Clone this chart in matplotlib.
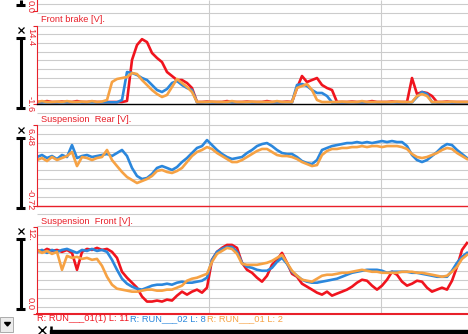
import numpy as np
import matplotlib.pyplot as plt
from matplotlib.patches import Rectangle, Polygon

plt.rcParams['font.family'] = ['Liberation Sans', 'DejaVu Sans']

W, H = 468, 334            # figure size in pixels
LEFT = 37                  # left edge of the channel plots
XMAX = 431 / 172           # one vertical grid division is 172 px wide
RED = '#e8202a'
GRID = '#cccccc'

# lap distance, one sample every 5 px
dist = np.linspace(0, 2.5, 87)

run_labels = ["R: RUN___01(1) L: 11", "R: RUN___02 L: 8", "R: RUN___01 L: 2"]
run_colors = ['#f0141e', '#2b87dc', '#f6a244']

# Front brake [V]
brake_red = [
    -1.19, -1.19, -1.00, -1.19, -1.19, -1.10, -1.19, -1.19, -1.00, -1.19,
    -1.19, -1.10, -1.19, -1.19, -1.19, -1.19, -1.19, -1.19, -0.98, 7.43,
    10.50, 11.70, 11.10, 8.86, 7.84, 7.00, 4.96, 4.14, 3.32, 3.32,
    2.71, 1.68, -1.19, -1.19, -1.10, -1.19, -1.19, -1.19, -1.00, -1.19,
    -1.19, -1.19, -1.10, -1.19, -1.19, -1.19, -1.00, -1.19, -1.19, -1.19,
    -1.10, -1.19, 1.68, 4.14, 2.91, 3.32, 3.73, 2.30, 1.68, 1.27,
    -1.19, -1.19, -1.19, -1.10, -1.19, -1.19, -1.19, -1.00, -1.19, -1.19,
    -1.19, -1.10, -1.19, -1.19, -1.19, 3.73, 0.45, 0.86, 0.66, 0.04,
    -1.19, -1.19, -1.10, -1.19, -1.19, -1.19, -1.19,
]
brake_blue = [
    -1.25, -1.25, -1.25, -1.25, -1.25, -1.25, -1.25, -1.25, -1.25, -1.25,
    -1.25, -1.25, -1.25, -1.25, -1.25, -1.25, -1.25, -0.78, 4.96, 4.76,
    4.35, 3.73, 3.32, 2.30, 1.27, 0.86, 1.48, 2.71, 3.12, 2.30,
    1.68, 1.27, -1.25, -1.25, -1.25, -1.25, -1.25, -1.25, -1.25, -1.25,
    -1.25, -1.25, -1.25, -1.25, -1.25, -1.25, -1.25, -1.25, -1.25, -1.25,
    -1.25, -1.25, 2.30, 2.50, 2.09, 1.27, 0.66, 0.66, 0.04, -1.25,
    -1.25, -1.25, -1.25, -1.25, -1.25, -1.25, -1.25, -1.25, -1.25, -1.25,
    -1.25, -1.25, -1.25, -1.25, -1.25, -1.25, -0.16, 0.86, 0.45, -1.25,
    -1.25, -1.25, -1.25, -1.25, -1.25, -1.25, -1.25,
]
brake_orange = [
    -1.19, -1.00, -1.19, -1.19, -1.10, -1.19, -1.00, -1.19, -1.19, -1.10,
    -1.19, -1.00, -1.19, -1.10, -0.78, 2.91, 3.53, 3.73, 3.94, 4.76,
    4.55, 3.32, 2.30, 1.27, 0.45, -0.16, 0.25, 1.89, 3.53, 2.71,
    1.89, 0.86, -1.19, -1.19, -1.19, -1.10, -1.19, -1.19, -1.19, -1.00,
    -1.19, -1.19, -1.19, -1.10, -1.19, -1.19, -1.19, -1.19, -1.00, -1.19,
    -1.19, -1.19, 1.68, 2.09, 2.50, 1.27, -0.78, -1.19, -1.19, -1.19,
    -1.19, -1.10, -1.19, -1.19, -1.19, -1.00, -1.19, -1.19, -1.19, -1.19,
    -1.19, -1.19, -1.10, -1.19, -1.19, -1.19, 0.04, 0.45, 0.04, -1.19,
    -1.19, -1.19, -1.19, -1.10, -1.19, -1.19, -1.19,
]

# Suspension Rear [V] (run 01(1) has no rear trace)
rear_red = [np.nan] * 87
rear_blue = [
    3.64, 3.82, 3.55, 3.73, 3.46, 3.82, 3.64, 4.71, 3.55, 3.73,
    3.82, 3.64, 3.73, 3.82, 3.91, 3.73, 4.00, 4.27, 3.73, 2.66,
    1.94, 1.67, 1.76, 2.12, 2.66, 2.83, 2.66, 2.48, 2.74, 3.19,
    3.55, 4.00, 4.45, 4.62, 5.16, 4.71, 4.27, 3.91, 3.64, 3.46,
    3.55, 3.64, 4.00, 4.27, 4.62, 4.80, 4.89, 4.62, 4.27, 4.00,
    3.91, 3.91, 3.64, 3.28, 3.10, 3.01, 3.37, 4.27, 4.45, 4.62,
    4.71, 4.80, 4.89, 4.89, 4.98, 4.89, 4.98, 4.89, 4.98, 5.07,
    4.98, 5.07, 4.98, 4.98, 4.62, 3.82, 3.37, 3.19, 3.37, 3.73,
    4.09, 4.53, 4.80, 4.71, 4.27, 3.91, 3.55,
]
rear_orange = [
    3.37, 3.55, 3.28, 3.64, 3.37, 3.55, 3.73, 4.09, 2.83, 3.64,
    3.55, 3.37, 3.55, 3.64, 4.27, 3.37, 2.83, 2.30, 1.85, 1.58,
    1.31, 1.49, 1.67, 1.94, 2.39, 2.48, 2.30, 2.21, 2.39, 2.66,
    3.19, 3.73, 4.09, 4.27, 4.53, 4.36, 4.00, 3.73, 3.46, 3.19,
    3.19, 3.37, 3.64, 3.91, 4.18, 4.36, 4.36, 4.09, 3.82, 3.73,
    3.73, 3.64, 3.46, 3.19, 3.01, 2.83, 2.92, 3.82, 4.18, 4.36,
    4.36, 4.45, 4.45, 4.53, 4.53, 4.62, 4.53, 4.62, 4.62, 4.53,
    4.62, 4.62, 4.62, 4.53, 4.36, 3.91, 3.64, 3.55, 3.64, 3.82,
    4.00, 4.27, 4.45, 4.36, 4.00, 3.73, 3.46,
]

# Suspension Front [V]
front_red = [
    8.79, 8.52, 8.93, 8.65, 8.79, 8.52, 8.79, 8.38, 6.04, 8.52,
    8.93, 8.79, 9.07, 8.79, 8.93, 8.52, 7.69, 5.77, 4.95, 4.26,
    3.57, 2.34, 1.65, 1.65, 1.79, 1.65, 1.92, 1.79, 2.47, 3.02,
    2.61, 3.02, 3.30, 2.88, 3.57, 7.42, 8.52, 9.07, 9.48, 9.48,
    9.07, 7.01, 6.04, 5.63, 4.95, 4.40, 5.22, 6.73, 7.42, 8.38,
    7.01, 5.49, 5.08, 4.12, 3.71, 3.30, 2.88, 2.61, 3.02, 2.47,
    2.75, 3.02, 3.30, 3.71, 4.26, 4.67, 4.53, 3.85, 3.30, 3.85,
    4.67, 5.77, 5.36, 4.40, 3.85, 4.12, 4.53, 4.40, 3.57, 3.02,
    3.30, 3.57, 3.30, 4.53, 6.46, 8.79, 9.75,
]
front_blue = [
    8.52, 8.79, 8.38, 8.79, 8.52, 8.79, 8.93, 8.65, 8.38, 8.79,
    8.65, 8.93, 8.65, 8.79, 8.52, 7.42, 6.04, 4.81, 4.12, 3.71,
    3.43, 3.30, 3.57, 3.85, 3.98, 3.98, 4.12, 3.98, 4.26, 4.40,
    4.26, 4.26, 4.40, 4.53, 4.95, 7.42, 8.52, 8.93, 9.20, 9.20,
    8.52, 7.01, 6.46, 6.32, 6.04, 5.91, 5.91, 6.32, 7.14, 7.69,
    6.87, 5.77, 5.22, 4.67, 4.40, 4.26, 4.26, 4.40, 4.53, 4.67,
    4.81, 5.08, 5.36, 5.63, 5.77, 5.91, 6.04, 6.04, 6.04, 5.91,
    5.63, 5.77, 5.77, 5.77, 5.77, 5.63, 5.63, 5.49, 5.36, 5.22,
    5.08, 5.08, 5.08, 5.91, 7.01, 7.83, 8.38,
]
front_orange = [
    8.79, 8.38, 8.65, 8.24, 8.52, 6.04, 7.97, 7.69, 7.83, 7.55,
    7.69, 7.42, 7.55, 6.59, 5.08, 3.98, 3.43, 3.30, 3.16, 3.02,
    3.02, 3.16, 3.30, 3.30, 3.16, 3.16, 3.30, 3.30, 3.57, 3.85,
    4.53, 4.81, 4.95, 5.22, 5.49, 7.14, 8.24, 8.65, 9.07, 8.93,
    8.24, 6.87, 6.73, 6.73, 6.73, 6.87, 7.01, 7.28, 7.69, 8.10,
    7.01, 5.91, 5.22, 4.67, 4.53, 4.40, 4.81, 5.22, 5.36, 5.36,
    5.49, 5.63, 5.63, 5.77, 5.91, 6.04, 5.91, 5.77, 5.77, 5.63,
    5.63, 5.63, 5.63, 5.77, 5.77, 5.77, 5.63, 5.63, 5.49, 5.36,
    5.22, 5.08, 5.22, 5.77, 6.46, 7.55, 8.10,
]

# channel layout: pixel rows of each plot, label positions, scale bar
channels = [
    dict(title="Front brake [V].", ylim=(-1.6, 14.4), ticks=("14.4", "-1.6"),
         rows=(26.0, 104.0), tick_y=(37.0, 104.5), title_y=20.0,
         base='black', base_lw=1.0, bar=(30.0, 38.0, 108.0),
         series=(brake_red, brake_blue, brake_orange)),
    dict(title="Suspension  Rear [V].", ylim=(-0.72, 6.48), ticks=("6.48", "-0.72"),
         rows=(125.3, 205.7), tick_y=(137.5, 199.5), title_y=120.0,
         base=RED, base_lw=1.0, bar=(130.0, 138.3, 208.3),
         series=(rear_red, rear_blue, rear_orange)),
    dict(title="Suspension  Front [V].", ylim=(0.0, 12.0), ticks=("12.", "0.0"),
         rows=(226.7, 313.5), tick_y=(235.0, 303.5), title_y=221.0,
         base=RED, base_lw=1.5, bar=(230.7, 239.3, 309.3),
         series=(front_red, front_blue, front_orange)),
]

grid_rows = ([4.3, 13.3]
             + list(np.linspace(25.5, 104.0, 10)[:-1]) + [113.3]
             + list(np.linspace(125.3, 205.7, 10)[:-1]) + [214.0]
             + list(np.linspace(226.3, 306.5, 10)))

fig = plt.figure(figsize=(W / 100, H / 100), dpi=100)
fig.patch.set_facecolor('white')

# background grid shared by all channels
bg = fig.add_axes([LEFT / W, 0, (W - LEFT) / W, 1], zorder=0)
bg.set_xlim(0, XMAX)
bg.set_ylim(H, 0)
bg.axis('off')
bg.hlines(grid_rows, 0, XMAX, color=GRID, lw=0.8)
bg.vlines([1, 2], 0, 314, color=GRID, lw=0.8)

for ch in channels:
    top, bottom = ch['rows']
    ax = fig.add_axes([LEFT / W, 1 - bottom / H, (W - LEFT) / W, (bottom - top) / H], zorder=2)
    ax.patch.set_visible(False)
    ax.set_xlim(0, XMAX)
    ax.set_ylim(*ch['ylim'])
    for lbl, col, vals in zip(run_labels, run_colors, ch['series']):
        ax.plot(dist, vals, color=col, lw=1.9, label=lbl)
    ax.spines['top'].set_visible(False)
    ax.spines['right'].set_visible(False)
    ax.spines['left'].set_color(RED)
    ax.spines['left'].set_linewidth(0.8)
    ax.spines['bottom'].set_color(ch['base'])
    ax.spines['bottom'].set_linewidth(ch['base_lw'])
    ax.set_xticks([])
    ax.set_yticks(ch['ylim'])
    ax.set_yticklabels([])
    ax.tick_params(axis='y', colors=RED, length=3, width=0.8)

# labels, scale bars and controls in pixel coordinates
deco = fig.add_axes([0, 0, 1, 1], zorder=3)
deco.set_xlim(0, W)
deco.set_ylim(H, 0)
deco.axis('off')

txt = dict(fontsize=6.7, va='center')
for ch in channels:
    deco.text(41, ch['title_y'], ch['title'], color=RED, ha='left', **txt)
    for label, y in zip(ch['ticks'], ch['tick_y']):
        deco.text(30.5, y, label, color=RED, ha='center', rotation=270, **txt)
    xy, b_top, b_bot = ch['bar']
    deco.plot([20.5, 20.5], [b_top, b_bot], color='k', lw=2.2, solid_capstyle='butt')
    deco.plot([16, 25], [b_top, b_top], color='k', lw=2.2, solid_capstyle='butt')
    deco.plot([16, 25], [b_bot, b_bot], color='k', lw=2.2, solid_capstyle='butt')
    deco.plot(20.5, xy, marker='x', ms=5, mew=0.9, color='k')

# tail of the channel above
deco.plot([20.5, 20.5], [0, 5], color='k', lw=2.2, solid_capstyle='butt')
deco.plot([16, 25], [5, 5], color='k', lw=2.2, solid_capstyle='butt')
deco.plot([36.7, 36.7, 33], [0, 10.7, 10.7], color=RED, lw=0.8)
deco.text(30.5, 6.5, "0.0", color=RED, ha='center', rotation=270, **txt)

# run legend
for x, lbl, col in zip([37, 130, 207], run_labels, run_colors):
    deco.text(x, 318.5, lbl, color=col, ha='left', **txt)

# drop-down button and time cursor bar
deco.add_patch(Rectangle((0, 317), 13, 15, facecolor='#ececec', edgecolor='#a0a0a0', lw=0.6))
deco.add_patch(Polygon([(4.5, 322.5), (10.5, 322.5), (7.5, 326)], closed=True, color='k'))
deco.plot(41.5, 329.5, marker='x', ms=5.5, mew=1.0, color='k')
deco.add_patch(Rectangle((49.5, 329.5), 420, 4.5, color='k'))
deco.plot([50.5, 50.5], [325.5, 334], color='k', lw=1.8, solid_capstyle='butt')

fig.savefig('out.png', dpi=100)
